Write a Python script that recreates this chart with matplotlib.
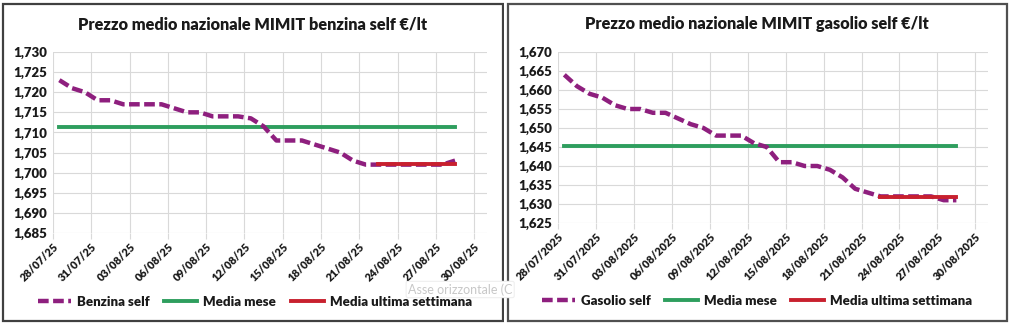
import numpy as np
import pandas as pd
import matplotlib
matplotlib.use("Agg")
import matplotlib.pyplot as plt
import matplotlib.dates as mdates
from matplotlib.patches import Rectangle
from matplotlib.ticker import FuncFormatter, MultipleLocator, FixedLocator

plt.rcParams['font.family'] = ['Lato', 'DejaVu Sans']
plt.rcParams['font.weight'] = 'bold'

# daily prices 28/07/2025 .. 28/08/2025
dates = pd.date_range("2025-07-28", "2025-08-28", freq="D")
tick_dates = pd.date_range("2025-07-28", "2025-08-30", freq="3D")

benzina = [1.723, 1.721, 1.720, 1.718, 1.718, 1.717, 1.717, 1.717, 1.717, 1.716,
           1.715, 1.715, 1.714, 1.714, 1.714, 1.7135, 1.7115, 1.708, 1.708, 1.708,
           1.707, 1.706, 1.705, 1.703, 1.702, 1.702, 1.702, 1.702, 1.702, 1.702,
           1.702, 1.703]
benzina_media_mese = 1.7113
benzina_media_sett = 1.7022

gasolio = [1.664, 1.661, 1.659, 1.658, 1.656, 1.655, 1.655, 1.654, 1.654, 1.6525,
           1.651, 1.650, 1.648, 1.648, 1.648, 1.646, 1.645, 1.641, 1.641, 1.640,
           1.640, 1.639, 1.637, 1.634, 1.633, 1.632, 1.632, 1.632, 1.632, 1.632,
           1.631, 1.631]
gasolio_media_mese = 1.6453
gasolio_media_sett = 1.6318

purple = '#8E1F7E'
green = '#2E9E5E'
red = '#C8202E'
dash = (0, (2.4, 1.0))

W, H = 1010, 324
fig = plt.figure(figsize=(W / 100, H / 100), dpi=100)


def px(x0, y0, x1, y1):
    return [x0 / W, 1 - y1 / H, (x1 - x0) / W, (y1 - y0) / H]


def panel(rect, values, media_mese, media_sett, ymin, ymax, datefmt,
          title, title_xy, label, legend_xy):
    ax = fig.add_axes(px(*rect))
    x = dates + pd.Timedelta(hours=12)
    ax.plot(x, [media_mese] * len(x), color=green, lw=2.8, zorder=3)
    ax.plot(x, values, color=purple, lw=3.2, ls=dash, zorder=4)
    ax.plot(x[-7:], [media_sett] * 7, color=red, lw=2.8, zorder=5)

    ax.set_xlim(pd.Timestamp("2025-07-28"), pd.Timestamp("2025-08-31"))
    ax.set_ylim(ymin, ymax)
    ax.xaxis.set_major_locator(FixedLocator(mdates.date2num(tick_dates)))
    ax.xaxis.set_major_formatter(mdates.DateFormatter(datefmt))
    ax.yaxis.set_major_locator(MultipleLocator(0.005))
    ax.yaxis.set_major_formatter(FuncFormatter(lambda v, p: f"{v:.3f}".replace('.', ',')))
    ax.grid(True, color='#D9D9D9', lw=0.8)
    ax.set_axisbelow(True)
    for s in ax.spines.values():
        s.set_visible(False)
    ax.tick_params(axis='y', length=0, labelsize=9.5, pad=4, labelcolor='#1A1A1A')
    ax.tick_params(axis='x', length=4, color='#D9D9D9', labelsize=7.9, pad=1.5,
                   labelcolor='#1A1A1A')
    for t in ax.get_xticklabels():
        t.set_rotation(45)
        t.set_ha('right')
        t.set_va('top')
        t.set_rotation_mode('anchor')
    for t in ax.get_yticklabels() + ax.get_xticklabels():
        t.set_fontweight('heavy')

    fig.text(title_xy[0] / W, 1 - title_xy[1] / H, title, ha='center', va='center',
             fontsize=11.7, fontweight='heavy', color='#1A1A1A')

    h1, = ax.plot([], [], color=purple, lw=3.2, ls=dash)
    h2, = ax.plot([], [], color=green, lw=2.8)
    h3, = ax.plot([], [], color=red, lw=2.8)
    fig.legend([h1, h2, h3], [label, 'Media mese', 'Media ultima settimana'],
               loc='center', bbox_to_anchor=(legend_xy[0] / W, 1 - legend_xy[1] / H),
               ncol=3, frameon=False, handlelength=2.5, labelcolor='#1A1A1A',
               columnspacing=1.1, handletextpad=0.45, prop={'weight': 'heavy', 'size': 9.5})
    return ax


panel((53, 52, 487, 233), benzina, benzina_media_mese, benzina_media_sett,
      1.685, 1.730, "%d/%m/%y",
      "Prezzo medio nazionale MIMIT benzina self €/lt", (253, 25),
      "Benzina self", (255, 302))

panel((558, 52, 988, 223), gasolio, gasolio_media_mese, gasolio_media_sett,
      1.625, 1.670, "%d/%m/%Y",
      "Prezzo medio nazionale MIMIT gasolio self €/lt", (757, 24),
      "Gasolio self", (757, 301))

# screenshot tooltip
fig.text(408 / W, 1 - 289.5 / H, "Asse orizzontale (C", fontsize=9, color='#C8C8C8',
         fontweight='normal', va='center', ha='left',
         bbox=dict(boxstyle='round,pad=0.15', fc='white', ec='#EFEFEF', lw=0.8))

# panel frames
fig.add_artist(Rectangle((3 / W, 1 - 321 / H), 500 / W, 317 / H, transform=fig.transFigure,
                         fill=False, ec='#404040', lw=1.6))
fig.add_artist(Rectangle((504 / W, 0), 4 / W, 1, transform=fig.transFigure,
                         fc='white', ec='none'))
fig.add_artist(Rectangle((508 / W, 1 - 321 / H), 499 / W, 317 / H, transform=fig.transFigure,
                         fill=False, ec='#505050', lw=1.6))

fig.savefig("out.png", dpi=100)
